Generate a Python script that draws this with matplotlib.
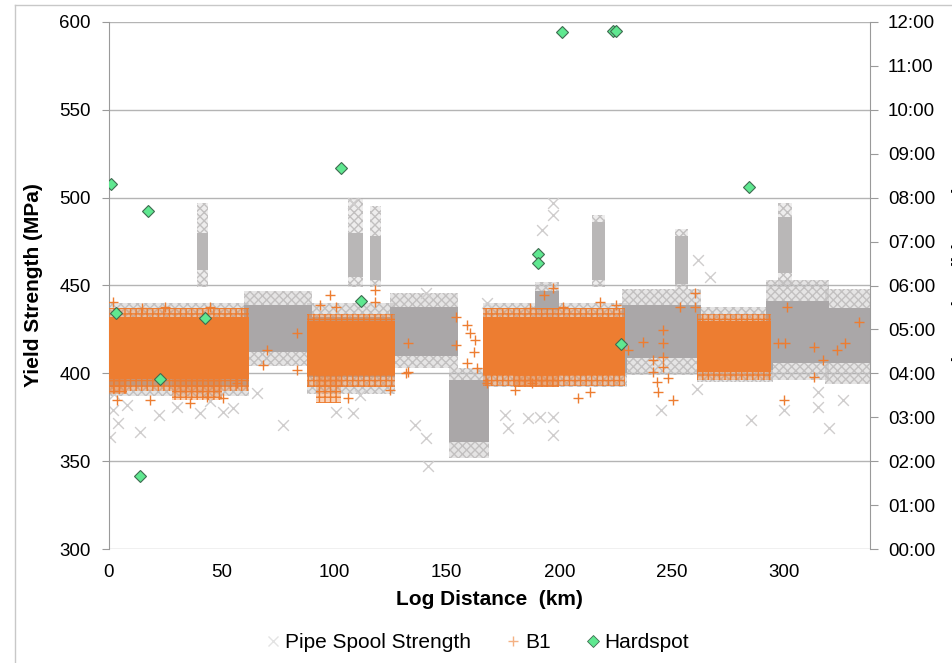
import matplotlib
matplotlib.use("Agg")
import matplotlib.pyplot as plt
from matplotlib.lines import Line2D
from matplotlib.colors import to_rgba

plt.rcParams['font.family'] = ['Liberation Sans', 'DejaVu Sans']
plt.rcParams['hatch.linewidth'] = 1.0

# ---------------- data ----------------
# Pipe spool strength: dense blocks (km start/end, MPa core low/high, fuzzy low/high)
spool_x0 = [0, 60, 88, 125, 151, 166, 189, 228, 261, 292, 318]
spool_x1 = [62, 90, 127, 155, 169, 230, 200, 263, 295, 320, 338]
spool_lo = [393, 412, 398, 410, 361, 400, 436, 409, 402, 406, 406]
spool_hi = [432, 439, 432, 438, 396, 432, 447, 439, 430, 441, 437]
spool_lo_fz = [387, 404, 388, 403, 352, 392, 430, 399, 395, 396, 394]
spool_hi_fz = [440, 447, 440, 446, 403, 440, 452, 448, 438, 453, 448]

# Pipe spool high-strength stripes
stripe_x0 = [39, 106, 116, 214.5, 251.5, 297]
stripe_x1 = [44, 113, 121, 220.5, 257, 303.5]
stripe_lo = [459, 455, 453, 453, 451, 457]
stripe_hi = [480, 480, 478, 486, 478, 489]
stripe_lo_fz = [449, 449, 449, 449, 448, 449]
stripe_hi_fz = [497, 500, 495, 490, 482, 497]

# Pipe spool sparse points
spool_pt_x = [1.8, 0.5, 13.8, 40.4, 50.7, 65.8, 77.3, 101, 108.4, 111.6, 136, 141.8,
              176, 186, 191.5, 197.3, 197.3, 177, 245, 285, 300, 315, 319.6, 314.7,
              326, 261, 261.8, 267, 197, 197, 192.4, 168, 141, 141, 108.4, 4, 8, 22,
              2, 30, 45, 55]
spool_pt_y = [379, 364, 366.7, 377.5, 378, 388.6, 370.6, 378, 377.5, 387.8, 370.6, 347,
              376, 374.6, 375, 375, 365, 369, 379, 373.5, 379, 381, 369, 389.4,
              385, 391, 464.5, 455, 497, 490, 481.6, 440, 446, 363, 497, 372, 382, 376,
              388, 381, 384, 380]

# B1: dense blocks
b1_x0 = [0, 88, 166, 261]
b1_x1 = [62, 127, 229, 294]
b1_lo = [397, 399, 399, 401]
b1_hi = [432, 430, 432, 430]
b1_lo_fz = [390, 392, 393, 396]
b1_hi_fz = [437, 434, 437, 434]
# B1: low tails below the dense blocks
b1_tail_x0 = [0, 28, 92, 180]
b1_tail_x1 = [8, 50, 103, 200]
b1_tail_lo = [388, 385, 383, 392]
b1_tail_hi = [399, 399, 400, 400]

# B1 sparse points
b1_pt_x = [1.8, 14.7, 24.9, 44.9, 98, 118, 93.8, 101, 3.5, 18, 36, 43.5, 50.7, 57,
           70, 83.5, 68.5, 83.5, 106, 125, 132, 118, 154, 154, 133, 133, 159, 160.5,
           162.7, 162, 159, 163.5, 187, 197, 193, 201.8, 218, 225, 180.4, 208.5,
           213.8, 188, 168, 237, 230.7, 253.8, 260.4, 260.4, 246, 246, 246, 246,
           241.8, 241.8, 248.4, 243.5, 244, 250.7, 301.3, 300.4, 297, 313, 317.3,
           323.5, 327, 333, 313, 299.6]
b1_pt_y = [440.6, 437, 437.8, 437.8, 444.6, 447.5, 439, 437.8, 385, 385, 383, 386.6,
           386, 394.5, 413, 423, 405, 402, 386, 390.5, 400, 440.6, 432, 416, 417,
           400.8, 427.5, 423, 419, 412, 406, 403, 437, 448.6, 444.6, 437.8, 440.6,
           439, 390.5, 386, 389.4, 394.5, 394.5, 418, 413, 437.8, 445.8, 437.8,
           424.7, 417, 409.4, 403.6, 407.6, 401, 397.4, 395, 389.6, 385, 437.8, 417,
           417, 415, 407.6, 413, 417, 429.4, 398, 385]

# Hardspots (log distance km, orientation in hours)
hard_x = [1, 3, 17.3, 13.8, 22.7, 42.7, 103.1, 112, 190.7, 190.7, 201.3, 224,
          225.3, 227.6, 284.4]
hard_h = [8.31, 5.38, 7.70, 1.66, 3.87, 5.26, 8.68, 5.65, 6.72, 6.51, 11.77, 11.79,
          11.79, 4.67, 8.24]

y_ticks = [300, 350, 400, 450, 500, 550, 600]
x_ticks = [0, 50, 100, 150, 200, 250, 300]
hour_ticks = list(range(0, 13))

# ---------------- style ----------------
ORANGE = '#ED7D31'
GREY = '#AAA7A8'
GREY_STRIPE = '#B9B7B7'
GREY_HATCH = '#C2C0C0'
GREEN = '#5FE890'
GRID = '#B4B4B4'

W, H = 953, 663
fig = plt.figure(figsize=(W / 100, H / 100), dpi=100)
ax = fig.add_axes([109 / W, 1 - 549 / H, (870 - 109) / W, (549 - 22) / H])

# outer chart frame
fig.add_artist(Line2D([15 / W, 15 / W], [0, 1 - 5 / H], color='#C8C8C8', lw=1,
                      transform=fig.transFigure))
fig.add_artist(Line2D([15 / W, 1], [1 - 5 / H, 1 - 5 / H], color='#C8C8C8', lw=1,
                      transform=fig.transFigure))


def solid(x0, x1, lo, hi, color, z):
    widths = [b - a for a, b in zip(x0, x1)]
    heights = [b - a for a, b in zip(lo, hi)]
    ax.bar(x0, heights, bottom=lo, width=widths, align='edge', color=color,
           linewidth=0, zorder=z)


def fuzzy(x0, x1, lo, hi, face, face_alpha, hatch_color, hatch, z):
    widths = [b - a for a, b in zip(x0, x1)]
    heights = [b - a for a, b in zip(lo, hi)]
    ax.bar(x0, heights, bottom=lo, width=widths, align='edge',
           facecolor=to_rgba(face, face_alpha), edgecolor=hatch_color, hatch=hatch,
           linewidth=0, zorder=z)


# grey spool
fuzzy(spool_x0, spool_x1, spool_lo_fz, spool_hi_fz, GREY, 0.3, GREY_HATCH, 'xxxx', 2)
solid(spool_x0, spool_x1, spool_lo, spool_hi, GREY, 2.1)
fuzzy(stripe_x0, stripe_x1, stripe_lo_fz, stripe_hi_fz, GREY, 0.2, GREY_HATCH, 'xxxx', 2)
solid(stripe_x0, stripe_x1, stripe_lo, stripe_hi, GREY_STRIPE, 2.1)
ax.scatter(spool_pt_x, spool_pt_y, marker='x', s=60, color='#CFCDCD', linewidths=1,
           zorder=2.2)

# orange B1
fuzzy(b1_x0, b1_x1, b1_lo_fz, b1_hi_fz, ORANGE, 0.35, ORANGE, '+++', 3)
fuzzy(b1_tail_x0, b1_tail_x1, b1_tail_lo, b1_tail_hi, ORANGE, 0.35, ORANGE, '+++', 3)
solid(b1_x0, b1_x1, b1_lo, b1_hi, ORANGE, 3.1)
ax.scatter(b1_pt_x, b1_pt_y, marker='+', s=60, color=ORANGE, linewidths=1, zorder=3.2)

ax.set_xlim(0, 338)
ax.set_ylim(300, 600)
ax.set_yticks(y_ticks)
ax.set_xticks(x_ticks)
ax.grid(axis='y', color=GRID, lw=1, zorder=0)
ax.set_axisbelow(True)
for s in ['top', 'right', 'bottom']:
    ax.spines[s].set_visible(False)
ax.spines['left'].set_color('#9A9A9A')
ax.tick_params(axis='y', length=5, color='#9A9A9A', labelsize=13.5, pad=8)
ax.tick_params(axis='x', length=0, labelsize=13.5, pad=11)
ax.set_ylabel('Yield Strength (MPa)', fontsize=15, fontweight='bold', labelpad=12)
ax.set_xlabel('Log Distance  (km)', fontsize=15, fontweight='bold', labelpad=6)

# right axis: orientation
ax2 = ax.twinx()
ax2.set_ylim(0, 12)
ax2.set_yticks(hour_ticks)
ax2.set_yticklabels([f'{h:02d}:00' for h in hour_ticks])
for s in ['top', 'left', 'bottom']:
    ax2.spines[s].set_visible(False)
ax2.spines['right'].set_color('#9A9A9A')
ax2.tick_params(axis='y', length=6, color='#9A9A9A', labelsize=13.5, pad=7)
ax2.plot(hard_x, hard_h, linestyle='none', marker='D', ms=6.5, mfc=GREEN,
         mec='#3F6B50', mew=0.8, zorder=5)
ax2.set_ylabel('Orientation (hh:mm)', fontsize=15, fontweight='bold', labelpad=12)

handles = [
    Line2D([], [], linestyle='none', marker='x', ms=7, color='#E3E3E3', mew=1),
    Line2D([], [], linestyle='none', marker='+', ms=7, color='#F4B183', mew=1),
    Line2D([], [], linestyle='none', marker='D', ms=6, mfc=GREEN, mec='#3F6B50', mew=0.6),
]
fig.legend(handles, ['Pipe Spool Strength', 'B1', 'Hardspot'], loc='center',
           bbox_to_anchor=(0.5, 1 - 643 / H), ncol=3, frameon=False, fontsize=15,
           handletextpad=0.1, columnspacing=1.6, handlelength=0.9)

fig.savefig('out.png', dpi=100)
